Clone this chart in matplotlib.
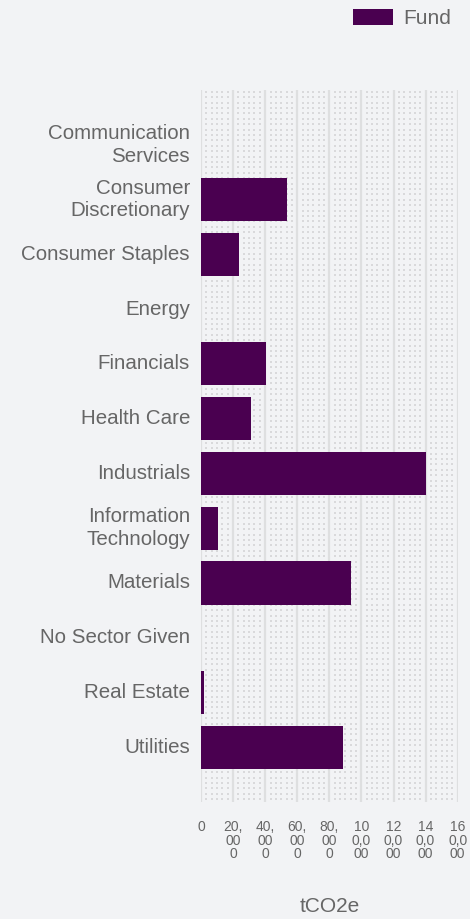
import numpy as np
import matplotlib.pyplot as plt
from matplotlib import transforms

plt.rcParams['font.family'] = ['Liberation Sans', 'DejaVu Sans']

# sector emissions (tCO2e)
sectors = ["Communication\nServices", "Consumer\nDiscretionary", "Consumer Staples",
           "Energy", "Financials", "Health Care", "Industrials",
           "Information\nTechnology", "Materials", "No Sector Given",
           "Real Estate", "Utilities"]
fund = [0, 53400, 23900, 0, 40500, 31200, 140200, 10400, 93500, 0, 2100, 88500]

x_ticks = [0, 20000, 40000, 60000, 80000, 100000, 120000, 140000, 160000]
x_tick_labels = ["0", "20,\n00\n0", "40,\n00\n0", "60,\n00\n0", "80,\n00\n0",
                 "10\n0,0\n00", "12\n0,0\n00", "14\n0,0\n00", "16\n0,0\n00"]

bg = "#f2f3f5"
bar_color = "#4a0050"
text_color = "#666666"

fig = plt.figure(figsize=(4.7, 9.19), dpi=100, facecolor=bg)
ax = fig.add_axes([201 / 470, 1 - 802 / 919, 256.7 / 470, 712 / 919])
ax.set_facecolor(bg)

# dotted background pattern
trans = transforms.blended_transform_factory(ax.transData, ax.transAxes)
dot_x = [g + 20000 * j / 6 for g in x_ticks[:-1] for j in range(1, 6)]
dot_y = np.arange(0.004, 1.0, 5.4 / 712)
dx, dy = np.meshgrid(dot_x, dot_y)
ax.scatter(dx.ravel(), dy.ravel(), s=1.8, marker='s', color="#d9d9db",
           linewidths=0, transform=trans, zorder=0)

y = np.arange(len(sectors))
ax.barh(y, fund, height=0.79, color=bar_color, label="Fund", zorder=3)

ax.set_xlim(0, 160000)
ax.set_ylim(len(sectors), -1)
ax.set_yticks(y)
ax.set_yticklabels(sectors, fontsize=14.8, color=text_color, linespacing=1.25,
                   va='center')
ax.set_xticks(x_ticks)
ax.set_xticklabels(x_tick_labels, fontsize=10, color=text_color, linespacing=0.95)
ax.tick_params(axis='y', length=0, pad=8)
ax.tick_params(axis='x', length=0, pad=13)
ax.grid(axis='x', color="#dedfe0", linewidth=1.6, zorder=1)
ax.set_axisbelow(True)
for s in ax.spines.values():
    s.set_visible(False)

ax.set_xlabel("tCO2e", fontsize=15, color=text_color, labelpad=26)

fig.legend(loc='upper right', bbox_to_anchor=(0.982, 1.002), frameon=False,
           fontsize=15, handlelength=1.92, handleheight=0.87, handletextpad=0.5,
           borderpad=0, labelcolor=text_color)

plt.savefig("out.png", dpi=100, facecolor=bg)
